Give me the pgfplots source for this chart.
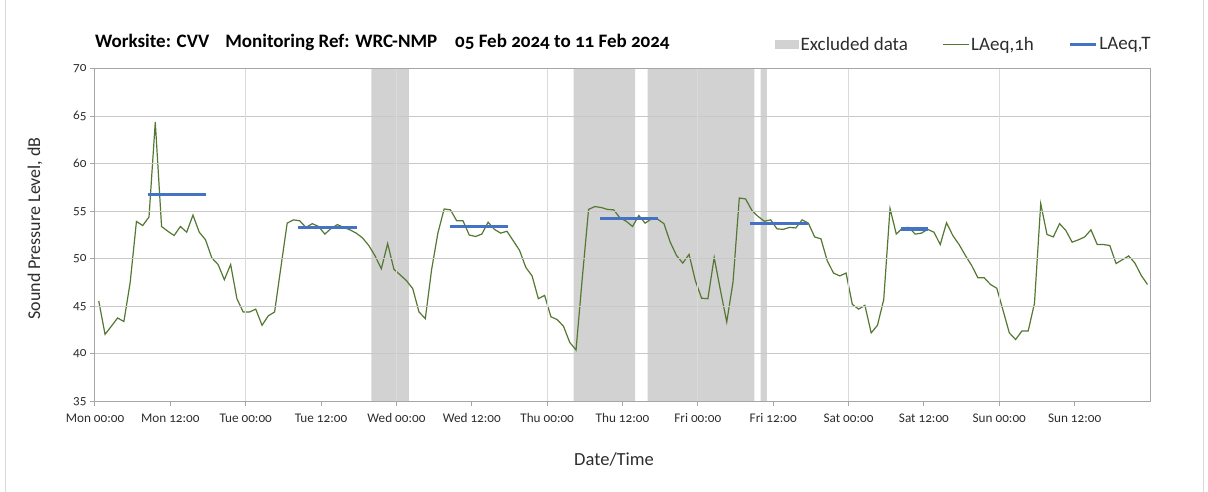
\documentclass[border=0pt]{standalone}
\usepackage{fontspec}
\setmainfont{Carlito}[Numbers=OldStyle]
\usepackage{pgfplots}
\usepackage{pgfplotstable}
\pgfplotsset{compat=1.18}
\definecolor{excl}{RGB}{210,210,210}
\definecolor{lgreen}{RGB}{84,120,50}
\definecolor{lblue}{RGB}{68,114,196}
\definecolor{hgrid}{RGB}{200,200,200}
\definecolor{vgrid}{RGB}{218,218,218}
\definecolor{axgray}{RGB}{166,166,166}
\definecolor{txt}{RGB}{45,45,45}
\definecolor{frame}{RGB}{217,217,217}

\pgfplotstableread{
h v
0.6 45.55
1.6 42.05
2.6 42.9
3.6 43.77
4.6 43.4
5.6 47.5
6.6 53.93
7.6 53.5
8.6 54.4
9.6 64.4
10.6 53.4
11.6 52.9
12.6 52.45
13.6 53.4
14.6 52.8
15.6 54.6
16.6 52.8
17.6 52.0
18.6 50.1
19.6 49.4
20.6 47.8
21.6 49.4
22.6 45.8
23.6 44.4
24.6 44.4
25.6 44.7
26.6 43.0
27.6 44.0
28.6 44.4
29.6 49.1
30.6 53.75
31.6 54.1
32.6 54.0
33.6 53.3
34.6 53.7
35.6 53.4
36.6 52.6
37.6 53.2
38.6 53.6
39.6 53.3
40.6 53.05
41.6 52.7
42.6 52.2
43.6 51.4
44.6 50.3
45.6 48.95
46.6 51.6
47.6 48.9
48.6 48.3
49.6 47.7
50.6 46.85
51.6 44.4
52.6 43.7
53.6 48.85
54.6 52.7
55.6 55.25
56.6 55.15
57.6 54.0
58.6 54.0
59.6 52.5
60.6 52.35
61.6 52.6
62.6 53.85
63.6 53.1
64.6 52.7
65.6 52.9
66.6 51.9
67.6 50.9
68.6 49.1
69.6 48.2
70.6 45.8
71.6 46.15
72.6 43.9
73.6 43.6
74.6 42.9
75.6 41.2
76.6 40.4
77.6 48.0
78.6 55.2
79.6 55.5
80.6 55.4
81.6 55.2
82.6 55.15
83.6 54.3
84.6 53.95
85.6 53.4
86.6 54.56
87.6 53.75
88.6 54.2
89.6 54.17
90.6 53.7
91.6 51.75
92.6 50.35
93.6 49.55
94.6 50.46
95.6 47.7
96.6 45.85
97.6 45.8
98.6 50.14
99.6 46.67
100.6 43.35
101.6 47.55
102.6 56.4
103.6 56.3
104.6 55.1
105.6 54.45
106.6 53.95
107.6 54.1
108.6 53.15
109.6 53.1
110.6 53.3
111.6 53.25
112.6 54.1
113.6 53.75
114.6 52.3
115.6 52.1
116.6 49.8
117.6 48.5
118.6 48.2
119.6 48.5
120.6 45.2
121.6 44.7
122.6 45.1
123.6 42.2
124.6 43.0
125.6 45.7
126.6 55.3
127.6 52.6
128.6 53.26
129.6 53.3
130.6 52.6
131.6 52.7
132.6 53.1
133.6 52.8
134.6 51.5
135.6 53.8
136.6 52.45
137.6 51.5
138.6 50.35
139.6 49.3
140.6 48.0
141.6 48.0
142.6 47.3
143.6 46.9
144.6 44.57
145.6 42.2
146.6 41.5
147.6 42.4
148.6 42.4
149.6 45.3
150.6 55.8
151.6 52.56
152.6 52.3
153.6 53.7
154.6 52.98
155.6 51.75
156.6 52.0
157.6 52.3
158.6 53.05
159.6 51.5
160.6 51.5
161.6 51.4
162.6 49.5
163.6 49.9
164.6 50.3
165.6 49.55
166.6 48.25
167.6 47.3
}\hourly

\begin{document}
\begin{tikzpicture}
\begin{axis}[
  scale only axis, width=1055bp, height=332.5bp,
  xmin=0, xmax=168, ymin=35, ymax=70,
  axis on top,
  axis line style={axgray, line width=1bp},
  xtick={0,12,...,156},
  xticklabels={Mon 00:00, Mon 12:00, Tue 00:00, Tue 12:00, Wed 00:00, Wed 12:00, Thu 00:00, Thu 12:00, Fri 00:00, Fri 12:00, Sat 00:00, Sat 12:00, Sun 00:00, Sun 12:00},
  ytick={35,40,...,70},
  ymajorgrids,
  major grid style={hgrid, line width=1bp},
  extra x ticks={24,48,72,96,120,144},
  extra x tick labels={},
  extra x tick style={grid=major, major grid style={vgrid, line width=1bp}, major tick length=0pt},
  tick align=outside, major tick length=5bp,
  tick style={axgray, line width=1bp},
  xtick pos=bottom, ytick pos=left,
  /pgf/number format/assume math mode=true,
  ticklabel style={font=\fontsize{13.2bp}{15bp}\selectfont, text=txt},
  xticklabel style={yshift=-4bp},
  title={Worksite: CVV\hspace{16bp}Monitoring Ref: WRC-NMP\hspace{18bp}05 Feb 2024 to 11 Feb 2024},
  every axis title/.style={at={(axis description cs:0,1)}, anchor=west, yshift=26.3bp, inner sep=0pt, font=\bfseries\fontsize{19bp}{22bp}\selectfont, text=black},
  xlabel={Date/Time},
  every axis x label/.style={at={(axis description cs:0.492,0)}, anchor=center, yshift=-58.3bp, font=\fontsize{18.5bp}{22bp}\selectfont, text=txt},
  ylabel={Sound Pressure Level, dB},
  every axis y label/.style={at={(axis description cs:-0.0569,0.52)}, rotate=90, anchor=center, font=\fontsize{18bp}{22bp}\selectfont, text=txt},
  legend columns=3,
  legend style={draw=none, fill=none, at={(0.6445,1)}, anchor=west, yshift=24.3bp,
    font=\fontsize{19bp}{22bp}\selectfont, text=txt, inner sep=0pt,
    nodes={inner sep=1.5bp},
    /tikz/every even column/.append style={column sep=33bp}},
]
\addplot[fill=excl, draw=none,
  legend image code/.code={\fill[excl] (0bp,-4bp) rectangle (24bp,4bp);}]
  coordinates {(44,35) (44,70) (50,70) (50,35) (44,35)};
\addlegendentry{Excluded data}
\addplot[fill=excl, draw=none, forget plot]
  coordinates {(76.2,35) (76.2,70) (86,70) (86,35) (76.2,35)};
\addplot[fill=excl, draw=none, forget plot]
  coordinates {(88,35) (88,70) (105,70) (105,35) (88,35)};
\addplot[fill=excl, draw=none, forget plot]
  coordinates {(106,35) (106,70) (107,70) (107,35) (106,35)};

\addplot[lgreen, line width=1.2bp, mark=none,
  legend image code/.code={\draw[lgreen, line width=1.2bp] (0bp,0bp) -- (26bp,0bp);}]
  table[x=h, y=v] {\hourly};
\addlegendentry{LAeq,1h}

\addplot[lblue, line width=3.5bp, mark=none,
  legend image code/.code={\draw[lblue, line width=3.5bp] (0bp,0bp) -- (26bp,0bp);}]
  coordinates {(8.4,56.77) (17.7,56.77)};
\addlegendentry{LAeq,T}
\addplot[lblue, line width=3.5bp, mark=none, forget plot] coordinates {(32.4,53.3) (41.7,53.3)};
\addplot[lblue, line width=3.5bp, mark=none, forget plot] coordinates {(56.5,53.4) (65.7,53.4)};
\addplot[lblue, line width=3.5bp, mark=none, forget plot] coordinates {(80.4,54.25) (89.6,54.25)};
\addplot[lblue, line width=3.5bp, mark=none, forget plot] coordinates {(104.3,53.7) (113.6,53.7)};
\addplot[lblue, line width=3.5bp, mark=none, forget plot] coordinates {(128.4,53.15) (132.6,53.15)};
\end{axis}
\draw[frame, line width=1bp] (-89.5bp,400.8bp) -- (-89.5bp,-90.2bp);
\draw[frame, line width=1bp] (1108bp,400.8bp) -- (1108bp,-90.2bp);
\useasboundingbox (-95bp,-90.2bp) rectangle (1113bp,400.8bp);
\end{tikzpicture}
\end{document}
